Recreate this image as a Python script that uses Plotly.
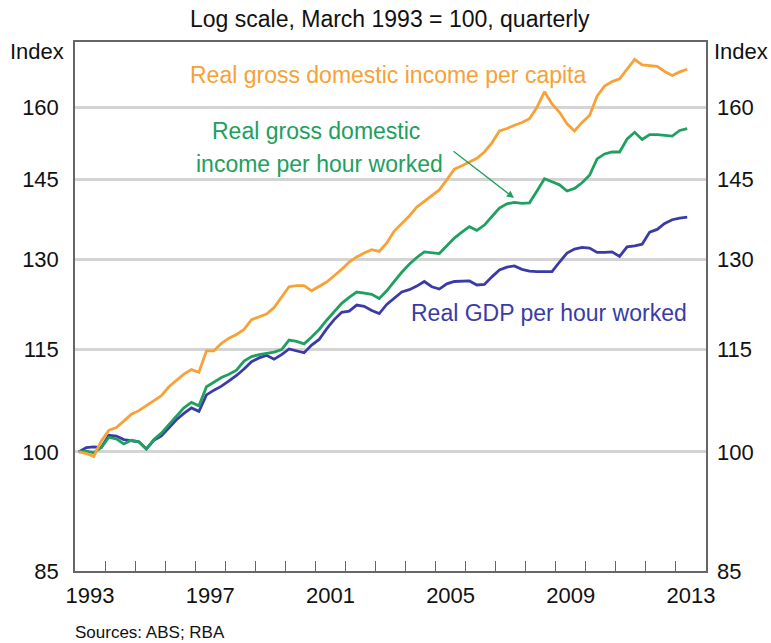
import math
import plotly.graph_objects as go

# Quarterly data, March quarter 1993 = 100 (through June quarter 2013)
start_year = 1993
n_quarters = 82
quarters = [start_year + 0.125 + 0.25 * i for i in range(n_quarters)]

gdi_per_capita = [
    100.0, 99.8, 99.4, 101.5, 103.0, 103.4, 104.3, 105.3, 105.8, 106.5,
    107.2, 108.0, 109.3, 110.2, 111.2, 111.9, 111.5, 114.8, 114.8, 116.0,
    116.8, 117.4, 118.2, 119.8, 120.3, 120.7, 121.8, 123.6, 125.3, 125.5,
    125.5, 124.6, 125.3, 126.1, 127.2, 128.3, 129.6, 130.5, 131.2, 131.8,
    131.5, 133.0, 135.2, 136.5, 138.0, 139.7, 140.8, 141.9, 143.0, 145.0,
    147.1, 147.8, 148.5, 149.3, 150.6, 152.5, 155.0, 155.5, 156.2, 156.8,
    157.6, 160.1, 163.5, 160.8, 159.0, 156.5, 155.0, 156.8, 158.3, 162.5,
    164.8, 165.8, 166.4, 168.6, 170.9, 169.6, 169.4, 169.3, 168.1, 167.2,
    168.0, 168.6,
]

gdi_per_hour = [
    100.0, 100.1, 99.9, 100.6, 102.0, 101.8, 101.1, 101.6, 101.4, 100.4,
    101.7, 102.6, 103.8, 105.0, 106.2, 107.0, 106.5, 109.3, 110.0, 110.7,
    111.2, 111.8, 113.2, 113.9, 114.2, 114.4, 114.6, 115.0, 116.5, 116.3,
    115.9, 117.0, 118.2, 119.7, 121.1, 122.5, 123.5, 124.4, 124.2, 124.0,
    123.3, 124.6, 126.2, 127.8, 129.2, 130.4, 131.4, 131.2, 131.1, 132.5,
    133.9, 135.0, 136.0, 135.3, 136.3, 137.9, 139.5, 140.3, 140.6, 140.4,
    140.5, 142.8, 145.2, 144.6, 144.0, 142.8, 143.3, 144.4, 145.9, 149.2,
    150.2, 150.6, 150.6, 153.3, 154.7, 153.2, 154.2, 154.2, 154.0, 153.9,
    155.1, 155.5,
]

gdp_per_hour = [
    100.0, 100.6, 100.7, 100.6, 102.3, 102.2, 101.7, 101.5, 101.4, 100.4,
    101.6, 102.2, 103.4, 104.5, 105.4, 106.2, 105.7, 108.1, 108.8, 109.4,
    110.2, 111.0, 112.0, 113.1, 113.7, 114.1, 113.5, 114.2, 115.1, 114.8,
    114.5, 115.7, 116.6, 118.3, 119.8, 121.0, 121.2, 122.2, 122.0, 121.3,
    120.8, 122.3, 123.4, 124.4, 124.8, 125.4, 126.2, 125.3, 124.9, 125.8,
    126.2, 126.2, 126.3, 125.6, 125.7, 127.0, 128.2, 128.7, 128.9, 128.3,
    128.0, 127.9, 127.9, 127.9, 129.6, 131.2, 131.9, 132.2, 132.1, 131.3,
    131.3, 131.4, 130.6, 132.3, 132.5, 132.8, 135.0, 135.5, 136.6, 137.3,
    137.6, 137.8,
]

y_ticks = [85, 100, 115, 130, 145, 160]
y_min, y_max = 85, 175
x_min, x_max = 1993, 2014
year_labels = [1993, 1997, 2001, 2005, 2009, 2013]

ORANGE = "#F7A136"
GREEN = "#20A060"
BLUE = "#3B3BA8"
FONT = "Liberation Sans, Arial, sans-serif"
AXIS = "#666666"

fig = go.Figure()
fig.add_trace(go.Scatter(x=quarters, y=gdp_per_hour, mode="lines",
                         line=dict(color=BLUE, width=2.8), showlegend=False))
fig.add_trace(go.Scatter(x=quarters, y=gdi_per_hour, mode="lines",
                         line=dict(color=GREEN, width=2.8), showlegend=False))
fig.add_trace(go.Scatter(x=quarters, y=gdi_per_capita, mode="lines",
                         line=dict(color=ORANGE, width=2.8), showlegend=False))
# helper trace so the label axes (x2 / y2) are drawn
fig.add_trace(go.Scatter(x=[None], y=[None], xaxis="x2", yaxis="y2",
                         mode="lines", showlegend=False, hoverinfo="skip"))

yr = [math.log10(y_min), math.log10(y_max)]

fig.update_layout(
    width=771, height=643,
    margin=dict(l=75, r=65, t=42, b=72, autoexpand=False),
    paper_bgcolor="white", plot_bgcolor="white",
    font=dict(family=FONT, size=22, color="#111111"),
    xaxis=dict(range=[x_min, x_max], tickvals=list(range(1994, 2014)),
               ticks="inside", ticklen=10, tickcolor=AXIS, tickwidth=1,
               showticklabels=False, showgrid=False, zeroline=False,
               showline=True, linecolor=AXIS, linewidth=1.5, mirror=True,
               automargin=False),
    xaxis2=dict(range=[x_min, x_max], overlaying="x", anchor="y", side="bottom",
                tickvals=[y + 0.5 for y in year_labels],
                ticktext=[str(y) for y in year_labels],
                ticks="", showgrid=False, zeroline=False, showline=False,
                ticklabelstandoff=9, tickfont=dict(size=22), automargin=False),
    yaxis=dict(type="log", range=yr, tickvals=y_ticks,
               ticktext=[str(v) for v in y_ticks],
               ticks="", showgrid=True, gridcolor="#D4D4D4", gridwidth=3,
               showline=True, linecolor=AXIS, linewidth=1.5, mirror=True,
               ticklabelstandoff=10, tickfont=dict(size=22), automargin=False),
    yaxis2=dict(type="log", range=yr, tickvals=y_ticks,
                ticktext=[str(v) for v in y_ticks],
                overlaying="y", anchor="x", side="right",
                ticks="", showgrid=False, showline=False, zeroline=False,
                ticklabelstandoff=10, tickfont=dict(size=22), automargin=False),
)

def px_x(p):
    return (p - 75) / 631.0

def px_y(p):
    return (571 - p) / 529.0

annotations = [
    dict(text="Log scale, March 1993 = 100, quarterly", x=px_x(390), y=px_y(19),
         font=dict(size=23)),
    dict(text="Index", x=px_x(37), y=px_y(52), font=dict(size=22)),
    dict(text="Index", x=px_x(741), y=px_y(52), font=dict(size=22)),
    dict(text="Sources: ABS; RBA", x=px_x(73), y=px_y(632), xanchor="left",
         font=dict(size=17)),
    dict(text="Real gross domestic income per capita", x=px_x(388), y=px_y(75),
         font=dict(size=23, color=ORANGE)),
    dict(text="Real gross domestic", x=px_x(316), y=px_y(131),
         font=dict(size=23, color=GREEN)),
    dict(text="income per hour worked", x=px_x(319), y=px_y(164),
         font=dict(size=23, color=GREEN)),
    dict(text="Real GDP per hour worked", x=px_x(549), y=px_y(313),
         font=dict(size=23, color=BLUE)),
]
for a in annotations:
    a.setdefault("xanchor", "center")
    fig.add_annotation(xref="paper", yref="paper", showarrow=False,
                       yanchor="middle", **a)

# arrow pointing from the green label to the green line
fig.add_annotation(xref="paper", yref="paper", x=px_x(514), y=px_y(198),
                   ax=-62, ay=-48, text="", showarrow=True,
                   arrowhead=2, arrowsize=1.1, arrowwidth=1.3, arrowcolor=GREEN)

fig.write_html(
    "out.html",
    config={"displayModeBar": False},
    post_script="document.body.style.margin='0px';"
                "document.body.style.overflow='hidden';",
)
